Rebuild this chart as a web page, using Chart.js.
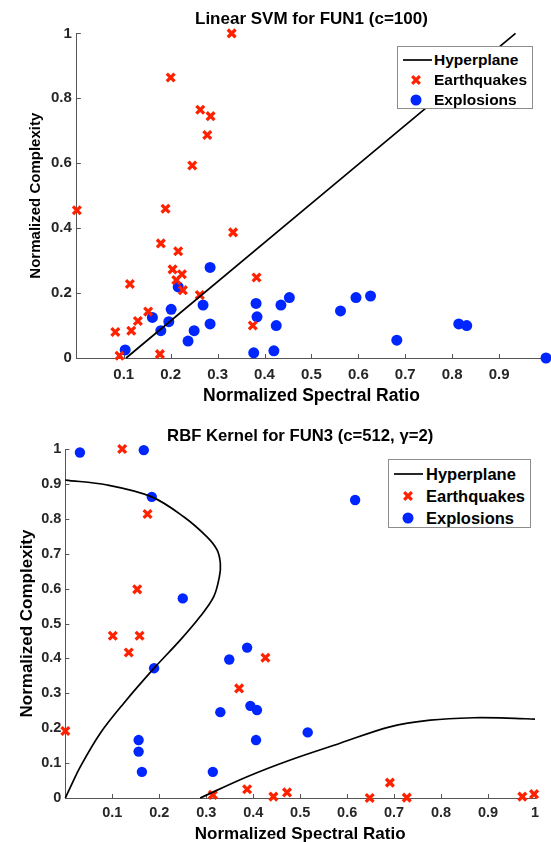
<!DOCTYPE html>
<html lang="en">
<head>
<meta charset="UTF-8">
<title>SVM hyperplanes</title>
<script src="https://cdn.jsdelivr.net/npm/chart.js"></script>
<style>
  html, body { margin: 0; padding: 0; background: #fff; overflow: hidden; }
  body { width: 551px; height: 842px; position: relative; font-family: 'Liberation Sans', Arial, sans-serif; }
  .wrap { position: absolute; left: 0; width: 551px; }
  .legend { position: absolute; background: #fff; border: 1px solid #8c8c8c; box-sizing: border-box; font-weight: bold; color: #000; }
  .legend .row { position: absolute; left: 0; display: flex; align-items: center; white-space: nowrap; }
  .legend svg { display: block; flex: none; }
</style>
</head>
<body>
<div class="wrap" style="top:0; height:415px;">
  <canvas id="chart1" width="551" height="415"></canvas>
  <div class="legend" id="legend1"></div>
</div>
<div class="wrap" style="top:415px; height:430px;">
  <canvas id="chart2" width="551" height="430"></canvas>
  <div class="legend" id="legend2"></div>
</div>

<script>
// ---- chart 1: Linear SVM for FUN1 ----
const xTicks1 = [0.1, 0.2, 0.3, 0.4, 0.5, 0.6, 0.7, 0.8, 0.9];
const yTicks1 = [0, 0.2, 0.4, 0.6, 0.8, 1];
const quakeX1 = [0.33, 0.20, 0.263, 0.285, 0.278, 0.246, 0.0, 0.189, 0.333, 0.179, 0.216, 0.204, 0.224, 0.212, 0.226, 0.113, 0.383, 0.262, 0.152, 0.13, 0.116, 0.082, 0.375, 0.177, 0.091];
const quakeY1 = [1.0, 0.864, 0.765, 0.745, 0.687, 0.593, 0.455, 0.46, 0.387, 0.353, 0.329, 0.273, 0.258, 0.24, 0.209, 0.228, 0.248, 0.194, 0.143, 0.114, 0.084, 0.08, 0.10, 0.012, 0.007];
const blastX1 = [0.284, 0.216, 0.161, 0.201, 0.196, 0.179, 0.103, 0.237, 0.25, 0.269, 0.284, 0.382, 0.384, 0.377, 0.42, 0.425, 0.435, 0.453, 0.562, 0.595, 0.626, 0.682, 0.814, 0.831, 1.0];
const blastY1 = [0.279, 0.219, 0.125, 0.15, 0.112, 0.084, 0.025, 0.052, 0.084, 0.163, 0.105, 0.168, 0.127, 0.016, 0.022, 0.10, 0.163, 0.186, 0.145, 0.186, 0.191, 0.055, 0.105, 0.10, 0.0];
const hyperX1 = [0.105, 0.935];
const hyperY1 = [0, 1];

// ---- chart 2: RBF Kernel for FUN3 ----
const xTicks2 = [0.1, 0.2, 0.3, 0.4, 0.5, 0.6, 0.7, 0.8, 0.9, 1];
const yTicks2 = [0, 0.1, 0.2, 0.3, 0.4, 0.5, 0.6, 0.7, 0.8, 0.9, 1];
const quakeX2 = [0.121, 0.175, 0.153, 0.101, 0.158, 0.135, 0.426, 0.37, 0.0, 0.314, 0.387, 0.443, 0.472, 0.648, 0.691, 0.727, 0.973, 0.998];
const quakeY2 = [1.0, 0.814, 0.598, 0.465, 0.465, 0.417, 0.402, 0.314, 0.192, 0.009, 0.025, 0.004, 0.016, 0.0, 0.044, 0.001, 0.004, 0.011];
const blastX2 = [0.031, 0.167, 0.184, 0.25, 0.617, 0.387, 0.349, 0.189, 0.33, 0.394, 0.408, 0.406, 0.156, 0.156, 0.163, 0.314, 0.516];
const blastY2 = [0.99, 0.997, 0.863, 0.572, 0.854, 0.431, 0.397, 0.372, 0.246, 0.264, 0.252, 0.166, 0.166, 0.133, 0.075, 0.075, 0.188];
const hyperAX2 = [0, 0.089, 0.184, 0.252, 0.301, 0.323, 0.33, 0.328, 0.316, 0.287, 0.245, 0.189, 0.124, 0.074, 0.032, 0.011, 0];
const hyperAY2 = [0.911, 0.897, 0.863, 0.806, 0.749, 0.711, 0.672, 0.634, 0.577, 0.52, 0.453, 0.372, 0.271, 0.185, 0.09, 0.032, 0];
const hyperBX2 = [0.287, 0.387, 0.479, 0.585, 0.691, 0.777, 0.869, 0.94, 1.0];
const hyperBY2 = [0, 0.061, 0.109, 0.157, 0.204, 0.223, 0.23, 0.229, 0.226];

const RED = '#ff2200';
const BLUE = '#0026ff';
const AXIS = '#555555';
const FONT = "'Liberation Sans', Arial, sans-serif";

const pts = (xs, ys) => xs.map((x, i) => ({ x: x, y: ys[i] }));

// MATLAB style tick marks pointing into the plot
const innerTicks = {
  id: 'innerTicks',
  beforeDatasetsDraw(chart) {
    const { ctx, chartArea: a, scales: { x, y } } = chart;
    ctx.save();
    ctx.strokeStyle = AXIS;
    ctx.lineWidth = 1;
    ctx.beginPath();
    x.ticks.forEach(t => {
      const px = Math.round(x.getPixelForValue(t.value)) + 0.5;
      ctx.moveTo(px, a.bottom);
      ctx.lineTo(px, a.bottom - 4);
    });
    y.ticks.forEach(t => {
      const py = Math.round(y.getPixelForValue(t.value)) + 0.5;
      ctx.moveTo(a.left, py);
      ctx.lineTo(a.left + 4, py);
    });
    ctx.stroke();
    ctx.restore();
  }
};

function lineSet(xs, ys) {
  return { type: 'line', label: 'Hyperplane', data: pts(xs, ys), showLine: true, borderColor: '#000', borderWidth: 1.7,
           pointRadius: 0, fill: false, tension: 0.35, clip: false };
}

function makeChart(id, s) {
  const datasets = s.lines.map(l => lineSet(l[0], l[1]));
  datasets.push({ label: 'Earthquakes', data: pts(s.quakes[0], s.quakes[1]), pointStyle: 'crossRot', pointRadius: s.crossR,
                  borderWidth: 3.3, borderColor: RED, backgroundColor: RED, clip: false });
  datasets.push({ label: 'Explosions', data: pts(s.blasts[0], s.blasts[1]), pointStyle: 'circle', pointRadius: s.dotR,
                  borderWidth: 0, borderColor: BLUE, backgroundColor: BLUE, clip: false });

  // note: chart.js counts ticks.padding twice in the axis size
  const axis = (ticks, title, t) => ({
    type: 'linear', min: 0, max: 1,
    afterBuildTicks: sc => { sc.ticks = ticks.map(v => ({ value: v })); },
    ticks: { callback: v => String(v), color: '#262626', padding: t.tickPad, font: { family: FONT, size: s.tickSize, weight: 'bold' } },
    grid: { display: true, drawOnChartArea: false, drawTicks: false },
    border: { color: AXIS, width: 1 },
    title: { display: true, text: title, color: '#000', padding: t.titlePad, font: { family: FONT, size: t.titleSize, weight: 'bold' } }
  });

  return new Chart(document.getElementById(id), {
    type: 'scatter',
    data: { datasets: datasets },
    options: {
      responsive: false,
      animation: false,
      layout: { padding: s.padding, autoPadding: false },
      plugins: {
        legend: { display: false },
        tooltip: { enabled: false },
        title: { display: true, text: s.title, fullSize: false, color: '#000', padding: s.titlePad,
                 font: { family: FONT, size: s.titleSize, weight: 'bold' } }
      },
      scales: {
        x: axis(s.xTicks, 'Normalized Spectral Ratio', s.x),
        y: axis(s.yTicks, 'Normalized Complexity', s.y)
      }
    },
    plugins: [innerTicks]
  });
}

function makeLegend(id, g) {
  const box = document.getElementById(id);
  Object.assign(box.style, { left: g.left + 'px', top: g.top + 'px', width: g.w + 'px', height: g.h + 'px', fontSize: g.size + 'px' });
  const sw = g.textX;
  const marks = [
    `<line x1="${g.lineX[0]}" y1="10" x2="${g.lineX[1]}" y2="10" stroke="#000" stroke-width="1.7"/>`,
    `<path d="M${g.markX - 3.8} 6.2 L${g.markX + 3.8} 13.8 M${g.markX - 3.8} 13.8 L${g.markX + 3.8} 6.2" stroke="${RED}" stroke-width="3.3"/>`,
    `<circle cx="${g.markX}" cy="10" r="${g.dotR}" fill="${BLUE}"/>`
  ];
  ['Hyperplane', 'Earthquakes', 'Explosions'].forEach((name, i) => {
    const row = document.createElement('div');
    row.className = 'row';
    row.style.top = (g.rows[i] - 10) + 'px';
    row.style.height = '20px';
    row.innerHTML = `<svg width="${sw}" height="20">${marks[i]}</svg><span>${name}</span>`;
    box.appendChild(row);
  });
}

makeChart('chart1', {
  title: 'Linear SVM for FUN1 (c=100)', titleSize: 17, titlePad: { top: 9.5, bottom: 3.5 },
  tickSize: 15, padding: { left: 27, right: 5, top: 0, bottom: 8.5 },
  x: { tickPad: 8, titleSize: 17.5, titlePad: { top: -6.5, bottom: 0 } },
  y: { tickPad: 5, titleSize: 15, titlePad: { top: 0, bottom: 1 } },
  xTicks: xTicks1, yTicks: yTicks1,
  lines: [[hyperX1, hyperY1]],
  quakes: [quakeX1, quakeY1], blasts: [blastX1, blastY1], crossR: 5.5, dotR: 5.5
});

makeChart('chart2', {
  title: 'RBF Kernel for FUN3 (c=512, \u03b3=2)', titleSize: 16.7, titlePad: { top: 11.5, bottom: 2.5 },
  tickSize: 14.5, padding: { left: 16.8, right: 16, top: 0, bottom: 0 },
  x: { tickPad: 6, titleSize: 17, titlePad: { top: -2.8, bottom: 0 } },
  y: { tickPad: 4, titleSize: 17, titlePad: { top: 0, bottom: 0 } },
  xTicks: xTicks2, yTicks: yTicks2,
  lines: [[hyperAX2, hyperAY2], [hyperBX2, hyperBY2]],
  quakes: [quakeX2, quakeY2], blasts: [blastX2, blastY2], crossR: 5.5, dotR: 5.2
});

makeLegend('legend1', { left: 397, top: 46, w: 136, h: 63, size: 15.5, rows: [13, 32.5, 53], textX: 36, markX: 18, lineX: [5, 34], dotR: 5.5 });
makeLegend('legend2', { left: 388, top: 44, w: 143, h: 69, size: 16.5, rows: [14, 36, 58], textX: 37, markX: 19, lineX: [5, 34], dotR: 5.5 });
</script>
</body>
</html>
